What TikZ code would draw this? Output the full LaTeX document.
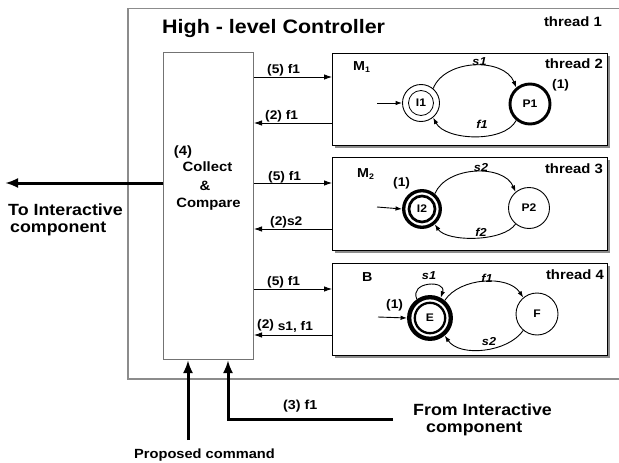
\documentclass[tikz,border=0pt]{standalone}
\usepackage{fontspec}
\setmainfont{Liberation Sans}[FakeStretch=1.1]
\usetikzlibrary{arrows.meta}
\newcommand\myfs[1]{\fontsize{#1}{#1}\selectfont\bfseries}
\begin{document}
\begin{tikzpicture}[x=1pt,y=-1pt,
  txt/.style={inner sep=0, anchor=base west, font=\myfs{12.5}},
  thr/.style={inner sep=0, anchor=base east, font=\myfs{13.5}},
  bigt/.style={inner sep=0, anchor=base west, font=\myfs{16.2}},
  cct/.style={inner sep=0, anchor=base, font=\myfs{13.5}},
  tl/.style={inner sep=0, font=\myfs{11.5}\itshape},
  st/.style={circle, draw, inner sep=0, line width=0.9pt, font=\myfs{11}},
  tbox/.style={draw, fill=white, line width=1.1pt, anchor=north west, inner sep=0, minimum width=275pt},
  shade/.style={fill=black!45},
  arr/.style={-{Latex[length=8pt,width=5.5pt]}, line width=0.8pt},
  tr/.style={-{Latex[length=6.5pt,width=4.5pt]}, line width=0.9pt},
  fat/.style={-{Latex[length=13pt,width=10pt]}, line width=3pt},
]
\useasboundingbox (0,0) rectangle (619,463);

% outer controller box (open on the right)
\draw[black!45, line width=1.6pt] (619,8.5) -- (128,8.5) -- (128,379) -- (619,379);
\node[inner sep=0, anchor=base west, font=\myfs{19.5}] (title) at (162,34) {High - level Controller};
\node[thr] (th1) at (602,27) {thread 1};

% collect & compare box
\node[draw=black!55, line width=1pt, minimum width=90pt, minimum height=307pt, anchor=north west, inner sep=0] (cc) at (163,52) {};
\node[cct] (c4) at (183,155) {(4)};
\node[cct] (c1) at (207.5,171.5) {Collect};
\node[cct] (c2) at (205,190) {\&};
\node[cct] (c3) at (208.5,207) {Compare};

% thread boxes with shadows
\fill[shade] (334.5,55.5) rectangle (609.5,147.5);
\node[tbox, minimum height=92pt] (t2) at (332,53) {};
\fill[shade] (334.5,159.5) rectangle (609.5,252.5);
\node[tbox, minimum height=93pt] (t3) at (332,157) {};
\fill[shade] (334.5,265.5) rectangle (609.5,357.5);
\node[tbox, minimum height=92pt] (t4) at (332,263) {};

\node[thr] (th2) at (603,68) {thread 2};
\node[thr] (th3) at (603,173) {thread 3};
\node[thr] (th4) at (604,279) {thread 4};
\node[txt, font=\myfs{13}] (m1) at (353,70) {M\raisebox{-2.5pt}{\myfs{8}1}};
\node[txt, font=\myfs{13}] (m2) at (357,177) {M\raisebox{-2.5pt}{\myfs{8}2}};
\node[txt, font=\myfs{13}] (bb) at (362,281.5) {B};

% connectors between collect box and threads
\draw[arr] (cc.east |- 0,77) -- (t2.west |- 0,77);
\draw[arr] (t2.west |- 0,123) -- (cc.east |- 0,123);
\draw[arr] (cc.east |- 0,183) -- (t3.west |- 0,183);
\draw[arr] (t3.west |- 0,229) -- (cc.east |- 0,229);
\draw[arr] (cc.east |- 0,289) -- (t4.west |- 0,289);
\draw[arr] (t4.west |- 0,335) -- (cc.east |- 0,335);
\node[txt] (l1) at (267,73) {(5) f1};
\node[txt] (l2) at (265,119) {(2) f1};
\node[txt] (l3) at (268,180) {(5) f1};
\node[txt] (l4) at (270,225) {(2)s2};
\node[txt] (l5) at (267,285) {(5) f1};
\node[txt] (l6) at (257,330.5) {\raisebox{2pt}{(2)} s1, f1};

% M1 automaton
\node[st, minimum size=37pt] (I1) at (421,103) {I1};
\draw[line width=0.8pt] (I1.center) circle (12.5pt);
\node[st, minimum size=40pt, line width=2.9pt] (P1) at (530,104) {P1};
\coordinate (i1s) at (377,103);
\draw[tr] (i1s) -- (I1.west);
\draw[tr] (I1.50) .. controls +(12,-30) and +(-12,-30) .. (P1.130);
\draw[tr] (P1.230) .. controls +(-12,23) and +(12,23) .. (I1.310);
\node[tl] (s1a) at (479.5,61.5) {s1};
\node[tl] (f1a) at (482,124) {f1};
\node[txt] (p1a) at (552,88) {(1)};

% M2 automaton
\node[st, minimum size=36.6pt, line width=3.3pt] (I2) at (422,209) {I2};
\draw[line width=2.7pt] (I2.center) circle (13pt);
\node[st, minimum size=41pt] (P2) at (529,208) {P2};
\coordinate (i2s) at (377,207);
\draw[tr] (i2s) -- (I2.west);
\draw[tr] (I2.50) .. controls +(12,-28) and +(-12,-28) .. (P2.130);
\draw[tr] (P2.230) .. controls +(-12,18) and +(12,18) .. (I2.310);
\node[tl] (s2a) at (481,167.5) {s2};
\node[tl] (f2a) at (481,232) {f2};
\node[txt] (p2a) at (393,186) {(1)};

% B automaton
\node[st, minimum size=41.6pt, line width=4.3pt] (E) at (430,318) {E};
\draw[line width=2.3pt] (E.center) circle (15.2pt);
\node[st, minimum size=42pt] (F) at (537,314) {F};
\coordinate (es) at (378,317);
\draw[tr] (es) -- (E.west);
\draw[tr] (E.125) .. controls +(-8,-18) and +(6,-18) .. (E.62);
\draw[tr] (E.50) .. controls +(15,-23) and +(-15,-23) .. (F.130);
\draw[tr] (F.230) .. controls +(-15,22) and +(15,22) .. (E.310);
\node[tl] (s1b) at (429,276) {s1};
\node[tl] (f1b) at (487,278.5) {f1};
\node[tl] (s2b) at (489,342) {s2};
\node[txt] (p3a) at (386,308) {(1)};

% external thick arrows
\coordinate (lft) at (5,183);
\draw[fat] (cc.west |- lft) -- (lft);
\node[bigt] (ti1) at (8,215) {To Interactive};
\node[bigt] (ti2) at (10,232) {component};

\coordinate (pc) at (188,440);
\draw[fat] (pc) -- (cc.south -| pc);
\node[inner sep=0, anchor=base west, font=\myfs{13.3}] (prop) at (134,458) {Proposed command};

\coordinate (fi) at (393,419);
\coordinate (fi2) at (228,419);
\draw[fat, line join=miter] (fi) -- (fi2) -- (cc.south -| fi2);
\node[txt, font=\myfs{13}] (l7) at (283,409) {(3) f1};
\node[bigt] (fr1) at (413,415) {From Interactive};
\node[bigt] (fr2) at (426,432) {component};
\end{tikzpicture}
\end{document}
